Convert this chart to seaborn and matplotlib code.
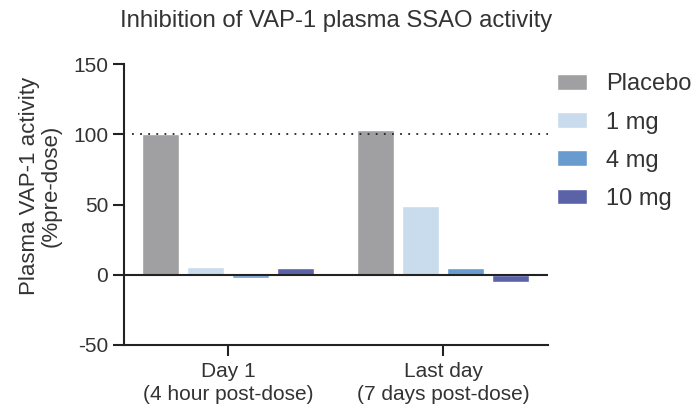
import matplotlib
matplotlib.use("Agg")
import matplotlib.pyplot as plt
import seaborn as sns
import pandas as pd

# ── Data ──────────────────────────────────────────────────────────────────────
timepoints = ["Day 1\n(4 hour post-dose)", "Last day\n(7 days post-dose)"]
doses      = ["Placebo", "1 mg", "4 mg", "10 mg"]
placebo    = [100, 103]
dose_1mg   = [5.2, 49]
dose_4mg   = [-2.5, 5.0]
dose_10mg  = [4.5, -5.0]
colors     = ["#a0a0a2", "#c9dcee", "#6a9bcf", "#5a62a8"]

df = pd.DataFrame({
    "time": timepoints * 4,
    "dose": [d for d in doses for _ in timepoints],
    "value": placebo + dose_1mg + dose_4mg + dose_10mg,
})

sns.set_style("white")
plt.rcParams["font.family"] = ["Liberation Sans", "DejaVu Sans"]
plt.rcParams["axes.unicode_minus"] = False
txt = "#333333"
ink = "#222222"

fig = plt.figure(figsize=(6.94, 4.15), dpi=100)
ax = fig.add_axes([0.1787, 0.1687, 0.611, 0.677])

sns.barplot(data=df, x="time", y="value", hue="dose", order=timepoints,
            hue_order=doses, palette=colors, width=0.84, gap=0.18,
            saturation=1, ax=ax)

ax.set_xlim(-0.484, 1.488)
ax.set_ylim(-50, 150)
ax.set_yticks([-50, 0, 50, 100, 150])
ax.axhline(0, color=ink, lw=1.5, zorder=3)
ax.axhline(100, xmin=0.02, color=ink, lw=1.3, ls=(0, (1, 3.5)), zorder=3)

for side in ["top", "right"]:
    ax.spines[side].set_visible(False)
for side in ["left", "bottom"]:
    ax.spines[side].set_color(ink)
    ax.spines[side].set_linewidth(1.5)

ax.tick_params(axis="both", direction="out", length=8, width=1.5,
               color=ink, labelsize=15, labelcolor=txt,
               left=True, bottom=True)
ax.tick_params(axis="y", pad=3.5)
ax.tick_params(axis="x", pad=4)
for lbl in ax.get_xticklabels():
    lbl.set_linespacing(1.3)

ax.set_xlabel("")
ax.set_ylabel("Plasma VAP-1 activity\n(%pre-dose)", fontsize=16,
              color=txt, linespacing=1.1)
ax.yaxis.set_label_coords(-0.146, 0.565)
ax.set_title("Inhibition of VAP-1 plasma SSAO activity", fontsize=17.2,
             color=txt, pad=27)

ax.legend(loc="upper left", bbox_to_anchor=(0.8026, 0.823),
          bbox_transform=fig.transFigure, borderpad=0, borderaxespad=0,
          frameon=False, fontsize=17, handlelength=1.27, handleheight=0.64,
          labelspacing=0.68, handletextpad=0.8, labelcolor=txt)

plt.savefig("out.png", dpi=100)
plt.close(fig)
